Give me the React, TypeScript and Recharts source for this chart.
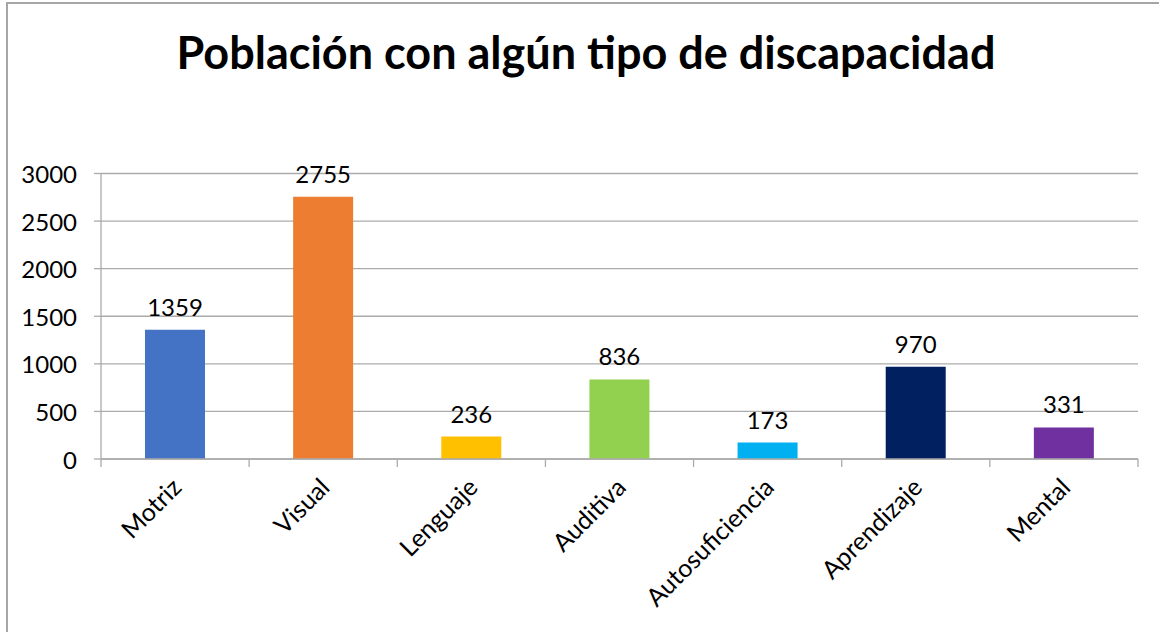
import { BarChart, Bar, XAxis, YAxis, CartesianGrid, Cell, LabelList } from "recharts";

const categories = ["Motriz", "Visual", "Lenguaje", "Auditiva", "Autosuficiencia", "Aprendizaje", "Mental"];
const values = [1359, 2755, 236, 836, 173, 970, 331];
const colors = ["#4472C4", "#ED7D31", "#FFC000", "#92D050", "#00B0F0", "#002060", "#7030A0"];
const yTicks = [0, 500, 1000, 1500, 2000, 2500, 3000];

const data = categories.map((name, i) => ({ name, value: values[i] }));

const FONT = "Lato, 'Open Sans', sans-serif";
const GRID = "#ABABAB";
const PLOT_LEFT = 101;
const PLOT_RIGHT = 1138;
const BAND = (PLOT_RIGHT - PLOT_LEFT) / categories.length;

// eslint-disable-next-line @typescript-eslint/no-explicit-any
function CategoryTick({ x, y, payload, index }: any) {
  const axisY = 459;
  const left = x - BAND / 2;
  const tx = x + 8;
  const ty = y + 30;
  return (
    <g>
      <line x1={left} y1={axisY} x2={left} y2={axisY + 8} stroke={GRID} strokeWidth={1.3} />
      {index === categories.length - 1 && (
        <line x1={x + BAND / 2} y1={axisY} x2={x + BAND / 2} y2={axisY + 8} stroke={GRID} strokeWidth={1.3} />
      )}
      <text
        x={tx}
        y={ty}
        textAnchor="end"
        fontSize={25}
        fontFamily={FONT}
        fill="#000"
        transform={`rotate(-45, ${tx}, ${ty})`}
      >
        {payload.value}
      </text>
    </g>
  );
}

export default function App() {
  return (
    <div style={{ position: "absolute", left: 0, top: 0, width: 1159, height: 632, background: "#fff", overflow: "hidden" }}>
      <div style={{ position: "absolute", left: 6, top: 2, width: 1200, height: 700, borderLeft: "2px solid #A6A6A6", borderTop: "2px solid #A6A6A6" }} />
      <div
        style={{
          position: "absolute",
          left: 0,
          width: 1159,
          top: 25,
          textAlign: "center",
          fontFamily: FONT,
          fontWeight: 700,
          fontSize: 45,
          color: "#000",
          paddingLeft: 13,
          boxSizing: "border-box",
        }}
      >
        Población con algún tipo de discapacidad
      </div>
      <div style={{ position: "absolute", left: 0, top: 0 }}>
        <BarChart
          width={1159}
          height={632}
          data={data}
          margin={{ top: 173.5, right: 1159 - PLOT_RIGHT, bottom: 0, left: 0 }}
          barCategoryGap={0}
        >
          <CartesianGrid vertical={false} stroke={GRID} strokeWidth={1.3} />
          <XAxis
            dataKey="name"
            height={173}
            axisLine={{ stroke: GRID, strokeWidth: 1.3 }}
            tickLine={false}
            tickSize={0}
            tickMargin={0}
            interval={0}
            tick={<CategoryTick />}
          />
          <YAxis
            width={PLOT_LEFT}
            domain={[0, 3000]}
            ticks={yTicks}
            axisLine={{ stroke: GRID, strokeWidth: 1.3 }}
            tickLine={{ stroke: GRID, strokeWidth: 1.3 }}
            tickSize={7}
            tickMargin={17}
            tick={{ fontSize: 24, fontFamily: FONT, fill: "#000", dy: 1 }}
          />
          <Bar dataKey="value" barSize={60} isAnimationActive={false}>
            {data.map((d, i) => (
              <Cell key={d.name} fill={colors[i]} />
            ))}
            <LabelList dataKey="value" position="top" offset={14} fontSize={24} fontFamily={FONT} fill="#000" />
          </Bar>
        </BarChart>
      </div>
    </div>
  );
}
